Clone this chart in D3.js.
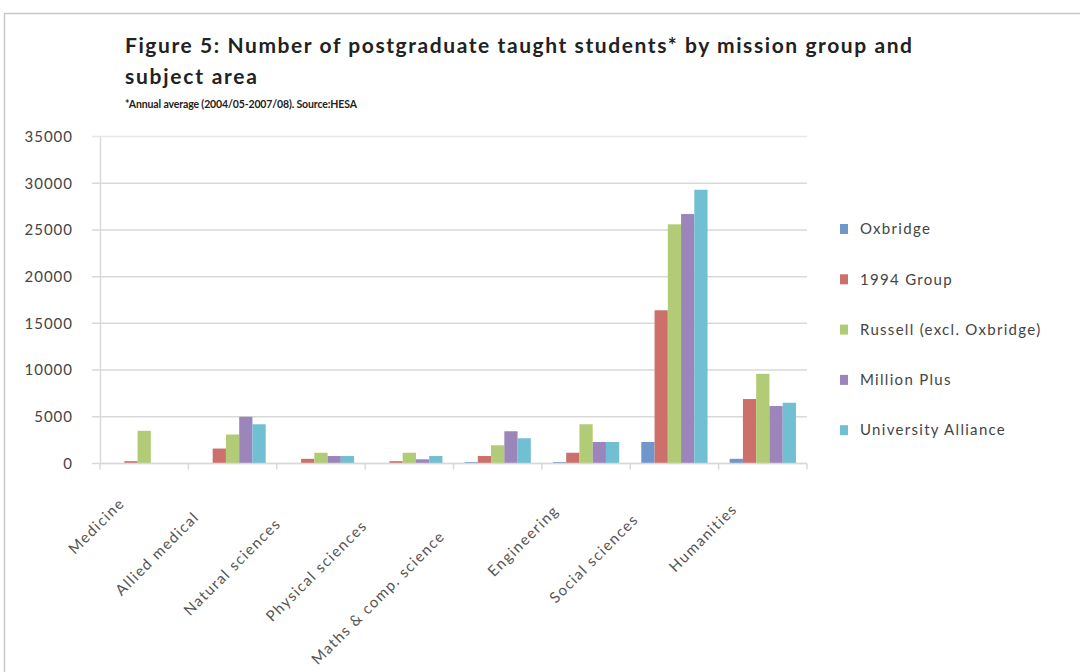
<!DOCTYPE html>
<html>
<head>
<meta charset="utf-8">
<script src="https://cdn.jsdelivr.net/npm/d3@7"></script>
<style>
  body { margin: 0; background: #fff; }
  svg { font-family: Lato, "Open Sans", sans-serif; }
</style>
</head>
<body>
<svg id="chart" width="1080" height="672"></svg>
<script>
// categories and series
var subjects = ["Medicine", "Allied medical", "Natural sciences", "Physical sciences",
    "Maths & comp. science", "Engineering", "Social sciences", "Humanities"];
var groups = ["Oxbridge", "1994 Group", "Russell (excl. Oxbridge)", "Million Plus", "University Alliance"];

var oxbridge  = [0, 0, 0, 0, 150, 150, 2300, 500];
var group1994 = [250, 1600, 500, 250, 800, 1150, 16400, 6900];
var russell   = [3500, 3100, 1150, 1150, 1950, 4200, 25600, 9600];
var millionPlus = [0, 5000, 800, 450, 3450, 2300, 26700, 6150];
var uniAlliance = [0, 4200, 800, 800, 2700, 2300, 29300, 6500];

var yTicks = [0, 5000, 10000, 15000, 20000, 25000, 30000, 35000];
var colors = ["#6f97cc", "#cd6f6b", "#b2cb76", "#9b85ba", "#70bfd3"];

var seriesValues = [oxbridge, group1994, russell, millionPlus, uniAlliance];

var svg = d3.select("#chart");

// outer frame of the chart area
svg.append("rect")
    .attr("x", 4.5)
    .attr("y", 13.5)
    .attr("width", 1100)
    .attr("height", 700)
    .attr("fill", "none")
    .attr("stroke", "#c8c8c8")
    .attr("stroke-width", 1.5);

// titles
svg.append("text")
    .attr("x", 125)
    .attr("y", 53)
    .attr("font-size", 21)
    .attr("font-weight", "bold")
    .attr("fill", "#222")
    .attr("textLength", 787)
    .attr("lengthAdjust", "spacing")
    .text("Figure 5: Number of postgraduate taught students* by mission group and");
svg.append("text")
    .attr("x", 125)
    .attr("y", 84)
    .attr("font-size", 21)
    .attr("font-weight", "bold")
    .attr("fill", "#222")
    .attr("textLength", 132)
    .attr("lengthAdjust", "spacing")
    .text("subject area");
svg.append("text")
    .attr("x", 125)
    .attr("y", 108)
    .attr("font-size", 10.5)
    .attr("font-weight", "bold")
    .attr("fill", "#222")
    .attr("textLength", 232)
    .attr("lengthAdjust", "spacing")
    .text("*Annual average (2004/05-2007/08). Source:HESA");

var plotLeft = 100, plotRight = 807, plotTop = 136.5, plotBottom = 463.5;

var x = d3.scaleBand()
    .domain(subjects)
    .range([plotLeft, plotRight])
    .paddingInner(0.25)
    .paddingOuter(0.125);

var xOuter = d3.scaleBand().domain(subjects).range([plotLeft, plotRight]);

var xInner = d3.scaleBand()
    .domain(groups)
    .range([0, x.bandwidth()]);

var y = d3.scaleLinear()
    .domain([0, 35000])
    .range([plotBottom, plotTop]);

// gridlines
svg.append("g")
    .selectAll("line")
    .data(yTicks)
    .enter().append("line")
    .attr("x1", plotLeft - 8)
    .attr("x2", plotRight)
    .attr("y1", function(d) { return y(d); })
    .attr("y2", function(d) { return y(d); })
    .attr("stroke", function(d) { return d === 35000 ? "#e8e8e8" : "#d9d9d9"; })
    .attr("stroke-width", 1.5);

// y axis
var yAxis = svg.append("g")
    .attr("transform", "translate(" + plotLeft + ",0)")
    .call(d3.axisLeft(y).tickValues(yTicks).tickSize(0).tickPadding(27)
        .tickFormat(d3.format("d")));
yAxis.select(".domain").attr("stroke", "#d9d9d9").attr("stroke-width", 1.5);
yAxis.selectAll("text")
    .attr("font-size", 15)
    .attr("font-family", "Lato, sans-serif")
    .attr("letter-spacing", "1px")
    .attr("fill", "#444");

// bars
var groupsG = svg.append("g")
    .selectAll("g")
    .data(subjects)
    .enter().append("g")
    .attr("transform", function(d) { return "translate(" + x(d) + ",0)"; });

groupsG.selectAll("rect")
    .data(function(d, i) {
        return groups.map(function(g, j) { return { group: g, value: seriesValues[j][i], idx: j }; });
    })
    .enter().append("rect")
    .attr("x", function(d) { return xInner(d.group); })
    .attr("y", function(d) { return y(d.value); })
    .attr("width", xInner.bandwidth())
    .attr("height", function(d) { return y(0) - y(d.value); })
    .attr("fill", function(d) { return colors[d.idx]; });

// x axis with ticks between categories
var xAxis = svg.append("g")
    .attr("transform", "translate(0," + plotBottom + ")");
xAxis.append("line")
    .attr("x1", plotLeft).attr("x2", plotRight)
    .attr("stroke", "#d9d9d9").attr("stroke-width", 1.5);
xAxis.selectAll(".tick")
    .data(subjects.concat(["end"]))
    .enter().append("line")
    .attr("x1", function(d, i) { return i < subjects.length ? xOuter(d) : plotRight; })
    .attr("x2", function(d, i) { return i < subjects.length ? xOuter(d) : plotRight; })
    .attr("y1", 0).attr("y2", 6)
    .attr("stroke", "#d9d9d9").attr("stroke-width", 1.5);

// rotated labels: longer labels slide further down-left, but stay inside the frame
var labels = xAxis.selectAll("text.xlabel")
    .data(subjects)
    .enter().append("text")
    .attr("class", "xlabel")
    .attr("text-anchor", "end")
    .attr("font-size", 15)
    .attr("letter-spacing", "1.4px")
    .attr("fill", "#555")
    .text(function(d) { return d; });

labels.attr("transform", function(d) {
    var len = this.getComputedTextLength();
    var along = Math.min(6 + 0.5 * len, 270 - len);
    var cx = xOuter(d) + xOuter.bandwidth() / 2;
    var lx = cx + (-along + 15.5) / Math.SQRT2;
    var ly = (along + 15.5) / Math.SQRT2;
    return "translate(" + lx + "," + ly + ") rotate(-45)";
});

// legend
var legend = svg.append("g")
    .selectAll("g")
    .data(groups)
    .enter().append("g")
    .attr("transform", function(d, i) { return "translate(840," + (229 + i * 50.3) + ")"; });

legend.append("rect")
    .attr("x", 0)
    .attr("y", -5)
    .attr("width", 8)
    .attr("height", 10)
    .attr("fill", function(d, i) { return colors[i]; });

legend.append("text")
    .attr("x", 20)
    .attr("y", 0)
    .attr("dy", "0.35em")
    .attr("font-size", 15)
    .attr("letter-spacing", "1.3px")
    .attr("fill", "#444")
    .text(function(d) { return d; });
</script>
</body>
</html>
